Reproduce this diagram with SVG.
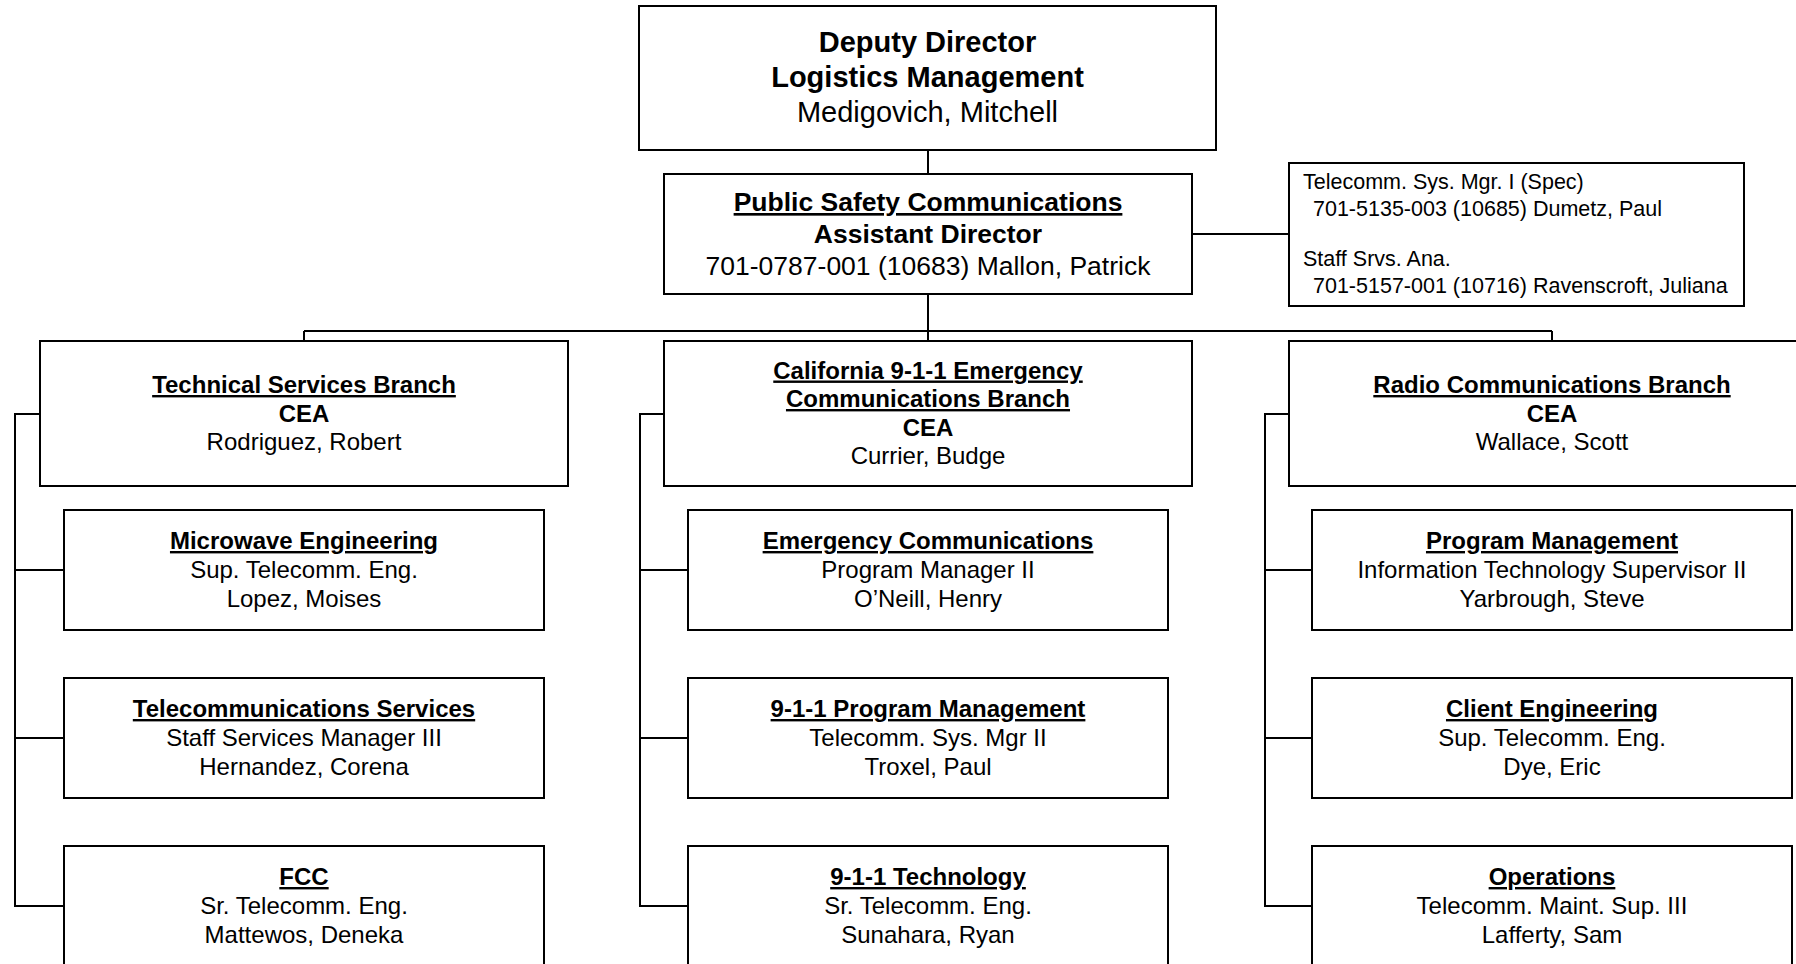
<svg xmlns="http://www.w3.org/2000/svg" width="1796" height="964" viewBox="0 0 1796 964">
<style>
.bg{fill:#fff}
.box{fill:#fff;stroke:#000;stroke-width:2}
.ln{fill:none;stroke:#000;stroke-width:2}
text{font-family:"Liberation Sans",Arial,sans-serif;fill:#000}
.c{text-anchor:middle}
.b{font-weight:bold}
.u{text-decoration:underline}
.t1{font-size:29px}
.t2{font-size:26.5px}
.t3{font-size:24px}
.t4{font-size:21.5px}
</style>
<rect class="bg" x="0" y="0" width="1796" height="964"/>
<g id="connectors">
<path class="ln" d="M928 150V174"/>
<path class="ln" d="M1192 234H1289"/>
<path class="ln" d="M928 294V331"/>
<path class="ln" d="M304 331H1552"/>
<path class="ln" d="M304 331V341M928 331V341M1552 331V341"/>
<path class="ln" d="M40 414H15V906H64M15 570H64M15 738H64"/>
<path class="ln" d="M664 414H640V906H688M640 570H688M640 738H688"/>
<path class="ln" d="M1289 414H1265V906H1312M1265 570H1312M1265 738H1312"/>
</g>
<g id="deputy-director">
<rect class="box" x="639" y="6" width="577" height="144"/>
<text class="c b t1" x="927.5" y="52">Deputy Director</text>
<text class="c b t1" x="927.5" y="87">Logistics Management</text>
<text class="c t1" x="927.5" y="121.5">Medigovich, Mitchell</text>
</g>
<g id="assistant-director">
<rect class="box" x="664" y="174" width="528" height="120"/>
<text class="c b u t2" x="928" y="211">Public Safety Communications</text>
<text class="c b t2" x="928" y="243">Assistant Director</text>
<text class="c t2" x="928" y="275">701-0787-001 (10683) Mallon, Patrick</text>
</g>
<g id="staff">
<rect class="box" x="1289" y="163" width="455" height="143"/>
<text class="t4" x="1303" y="188.5">Telecomm. Sys. Mgr. I (Spec)</text>
<text class="t4" x="1313" y="215.5">701-5135-003 (10685) Dumetz, Paul</text>
<text class="t4" x="1303" y="266">Staff Srvs. Ana.</text>
<text class="t4" x="1313" y="293">701-5157-001 (10716) Ravenscroft, Juliana</text>
</g>
<g id="technical-services">
<rect class="box" x="40" y="341" width="528" height="145"/>
<text class="c b u t3" x="304" y="393">Technical Services Branch</text>
<text class="c b t3" x="304" y="421.5">CEA</text>
<text class="c t3" x="304" y="450">Rodriguez, Robert</text>
</g>
<g id="california-911">
<rect class="box" x="664" y="341" width="528" height="145"/>
<text class="c b u t3" x="928" y="378.5">California 9-1-1 Emergency</text>
<text class="c b u t3" x="928" y="407">Communications Branch</text>
<text class="c b t3" x="928" y="435.5">CEA</text>
<text class="c t3" x="928" y="464">Currier, Budge</text>
</g>
<g id="radio-communications">
<rect class="box" x="1289" y="341" width="528" height="145"/>
<text class="c b u t3" x="1552" y="393">Radio Communications Branch</text>
<text class="c b t3" x="1552" y="421.5">CEA</text>
<text class="c t3" x="1552" y="450">Wallace, Scott</text>
</g>
<g id="microwave-engineering">
<rect class="box" x="64" y="510" width="480" height="120"/>
<text class="c b u t3" x="304" y="549">Microwave Engineering</text>
<text class="c t3" x="304" y="578">Sup. Telecomm. Eng.</text>
<text class="c t3" x="304" y="606.5">Lopez, Moises</text>
</g>
<g id="telecommunications-services">
<rect class="box" x="64" y="678" width="480" height="120"/>
<text class="c b u t3" x="304" y="717">Telecommunications Services</text>
<text class="c t3" x="304" y="746">Staff Services Manager III</text>
<text class="c t3" x="304" y="774.5">Hernandez, Corena</text>
</g>
<g id="fcc">
<rect class="box" x="64" y="846" width="480" height="120"/>
<text class="c b u t3" x="304" y="885">FCC</text>
<text class="c t3" x="304" y="914">Sr. Telecomm. Eng.</text>
<text class="c t3" x="304" y="942.5">Mattewos, Deneka</text>
</g>
<g id="emergency-communications">
<rect class="box" x="688" y="510" width="480" height="120"/>
<text class="c b u t3" x="928" y="549">Emergency Communications</text>
<text class="c t3" x="928" y="578">Program Manager II</text>
<text class="c t3" x="928" y="606.5">O’Neill, Henry</text>
</g>
<g id="program-management-911">
<rect class="box" x="688" y="678" width="480" height="120"/>
<text class="c b u t3" x="928" y="717">9-1-1 Program Management</text>
<text class="c t3" x="928" y="746">Telecomm. Sys. Mgr II</text>
<text class="c t3" x="928" y="774.5">Troxel, Paul</text>
</g>
<g id="technology-911">
<rect class="box" x="688" y="846" width="480" height="120"/>
<text class="c b u t3" x="928" y="885">9-1-1 Technology</text>
<text class="c t3" x="928" y="914">Sr. Telecomm. Eng.</text>
<text class="c t3" x="928" y="942.5">Sunahara, Ryan</text>
</g>
<g id="program-management">
<rect class="box" x="1312" y="510" width="480" height="120"/>
<text class="c b u t3" x="1552" y="549">Program Management</text>
<text class="c t3" x="1552" y="578">Information Technology Supervisor II</text>
<text class="c t3" x="1552" y="606.5">Yarbrough, Steve</text>
</g>
<g id="client-engineering">
<rect class="box" x="1312" y="678" width="480" height="120"/>
<text class="c b u t3" x="1552" y="717">Client Engineering</text>
<text class="c t3" x="1552" y="746">Sup. Telecomm. Eng.</text>
<text class="c t3" x="1552" y="774.5">Dye, Eric</text>
</g>
<g id="operations">
<rect class="box" x="1312" y="846" width="480" height="120"/>
<text class="c b u t3" x="1552" y="885">Operations</text>
<text class="c t3" x="1552" y="914">Telecomm. Maint. Sup. III</text>
<text class="c t3" x="1552" y="942.5">Lafferty, Sam</text>
</g>
</svg>
